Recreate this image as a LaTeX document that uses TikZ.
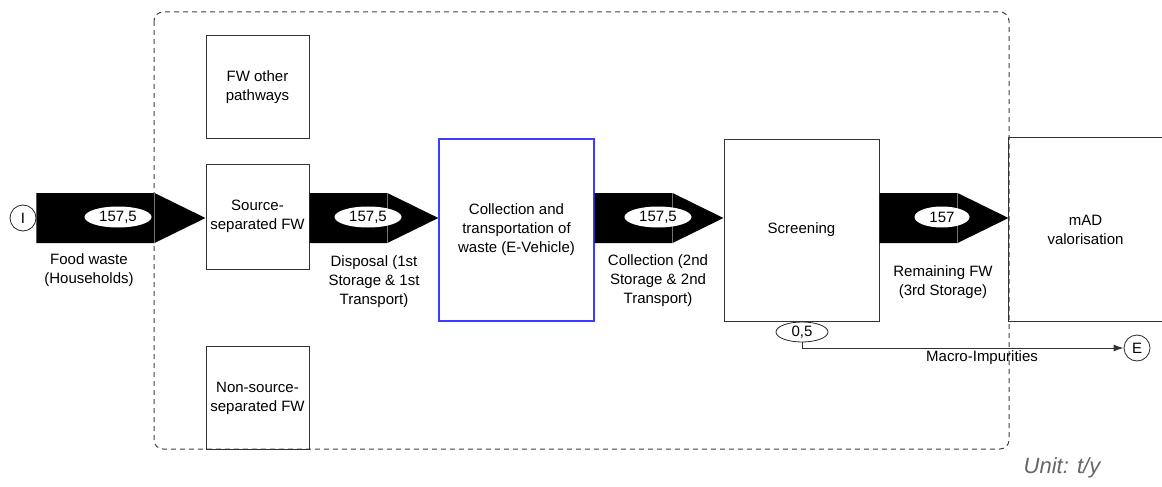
\documentclass[tikz,border=0pt]{standalone}
\usepackage{fontspec}
\setmainfont{Liberation Sans}
\usetikzlibrary{calc,shapes.geometric,arrows.meta}
\tikzset{
  box/.style={draw=black!80, line width=1pt, minimum width=103pt, minimum height=103pt, inner sep=0pt, align=center},
  bigbox/.style={box, minimum width=155pt, minimum height=182pt},
  amount/.style={ellipse, fill=white, inner sep=0pt, minimum width=67pt, minimum height=21pt},
  flowlabel/.style={align=center},
  endpoint/.style={circle, draw=black!85, line width=0.8pt, minimum size=26pt, inner sep=0pt},
  frame/.style={draw=black!75, line width=1pt, dash pattern=on 5pt off 4pt, rounded corners=9pt},
}
% black flow arrow from #1 to #2, at the height of the input
\newcommand{\flowarrow}[2]{%
  \fill let \p1=(#1.east), \p2=(#2.west |- in.center) in
    (\x1,\y2+25pt) -- (\x2-51pt,\y2+25pt) -- (\x2,\y2) -- (\x2-51pt,\y2-25pt) -- (\x1,\y2-25pt) -- cycle;
  \draw[black!55, line width=0.8pt] let \p2=(#2.west |- in.center) in
    (\x2-51pt,\y2+25pt) -- (\x2-51pt,\y2-25pt);}
\begin{document}
\begin{tikzpicture}[x=1pt, y=-1pt, every node/.style={font=\fontsize{15}{19}\selectfont}]
  \useasboundingbox (0,0) rectangle (1162,487);
  \draw[frame] (154,12) rectangle (1009,449);

  % boxes
  \node[box] (other) at (257.5,87) {FW other\\pathways};
  \node[box, minimum height=105pt] (src) at (257.5,216.5) {Source-\\separated FW};
  \node[box] (nonsrc) at (257.5,398) {Non-source-\\separated FW};
  \node[bigbox, draw={rgb,255:red,60;green,60;blue,255}, line width=1.3pt] (coll) at (516.5,230) {Collection and\\transportation of\\waste (E-Vehicle)};
  \node[bigbox] (scr) at (801.5,230) {Screening};
  \node[bigbox, draw=none, minimum width=153pt, minimum height=183pt] (mad) at (1085.5,229.5) {mAD\\valorisation};
  \draw[black!80, line width=1pt] (mad.north east) -- (mad.north west) -- (mad.south west) -- (mad.south east);

  % in and out
  \node[endpoint] (in) at (23,218) {I};
  \node[endpoint] (out) at (1137,348) {E};

  % flows
  \flowarrow{in}{src}
  \flowarrow{src}{coll}
  \flowarrow{coll}{scr}
  \flowarrow{scr}{mad}

  \node[amount] (v1) at (118,217) {157,5};
  \node[amount] (v2) at (368,217) {157,5};
  \node[amount] (v3) at (658,217) {157,5};
  \node[amount, minimum width=55pt] (v4) at (942,217) {157};

  \node[flowlabel] (food) at (89,270) {Food waste\\(Households)};
  \node[flowlabel] (disp) at (374,282) {Disposal (1st\\Storage \& 1st\\Transport)};
  \node[flowlabel] (collect) at (658,281) {Collection (2nd\\Storage \& 2nd\\Transport)};
  \node[flowlabel] (remain) at (943,282) {Remaining FW\\(3rd Storage)};

  % impurities
  \node[amount, draw=black!85, line width=0.8pt, minimum width=52pt, minimum height=20pt] (v5) at (802,332) {0,5};
  \draw[black!80, line width=1pt, -{Latex[length=10pt,width=7pt]}] (v5.south) |- (out.west);
  \node (macro) at (982,358) {Macro-Impurities};

  \node[font=\fontsize{22}{26}\selectfont\itshape, text=black!60] (unit) at (1062,468) {Unit: t/y};
\end{tikzpicture}
\end{document}
